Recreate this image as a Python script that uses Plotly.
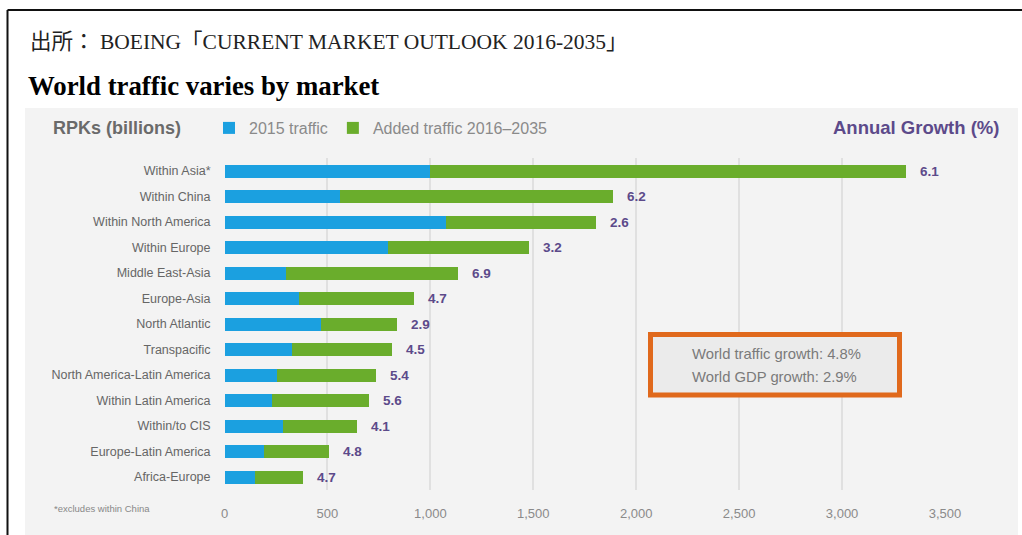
import plotly.graph_objects as go

# Markets, top to bottom
markets = [
    "Within Asia*", "Within China", "Within North America", "Within Europe",
    "Middle East-Asia", "Europe-Asia", "North Atlantic", "Transpacific",
    "North America-Latin America", "Within Latin America", "Within/to CIS",
    "Europe-Latin America", "Africa-Europe",
]
# RPKs (billions)
traffic_2015 = [1000, 562, 1078, 796, 299, 362, 467, 328, 254, 230, 284, 192, 148]
added_2016_2035 = [2310, 1327, 728, 684, 837, 558, 371, 486, 483, 473, 361, 314, 233]
# Annual growth (%)
annual_growth = [6.1, 6.2, 2.6, 3.2, 6.9, 4.7, 2.9, 4.5, 5.4, 5.6, 4.1, 4.8, 4.7]

x_ticks = [0, 500, 1000, 1500, 2000, 2500, 3000, 3500]
x_tick_labels = ["0", "500", "1,000", "1,500", "2,000", "2,500", "3,000", "3,500"]

W, H = 1022, 535
BLUE = "#1ba0e0"
GREEN = "#6aad2c"
PURPLE = "#5c4a8a"
SANS = "Liberation Sans, Arial, sans-serif"
SERIF = "Liberation Serif, Noto Sans CJK JP, serif"


def px(x):
    return x / W


def py(y):
    return 1 - y / H


fig = go.Figure()
fig.add_trace(go.Bar(
    y=markets, x=traffic_2015, orientation="h", name="2015 traffic",
    marker=dict(color=BLUE, line=dict(width=0)),
))
fig.add_trace(go.Bar(
    y=markets, x=added_2016_2035, orientation="h", name="Added traffic 2016\u20132035",
    marker=dict(color=GREEN, line=dict(width=0)),
))

# Growth labels at the end of each stacked bar
annotations = []
for m, a, b, g in zip(markets, traffic_2015, added_2016_2035, annual_growth):
    annotations.append(dict(
        x=a + b, y=m, xref="x", yref="y", text=f"<b>{g:.1f}</b>", showarrow=False,
        xanchor="left", xshift=12, font=dict(family=SANS, size=13.5, color=PURPLE),
    ))

# Header texts
annotations += [
    dict(x=px(28), y=py(42), xref="paper", yref="paper", xanchor="left", yanchor="middle",
         text="出所： BOEING「CURRENT MARKET OUTLOOK 2016-2035」", showarrow=False,
         font=dict(family=SERIF, size=21.5, color="#222222")),
    dict(x=px(26), y=py(86), xref="paper", yref="paper", xanchor="left", yanchor="middle",
         text="<b>World traffic varies by market</b>", showarrow=False,
         font=dict(family=SERIF, size=26.8, color="#000000")),
    dict(x=px(51), y=py(128), xref="paper", yref="paper", xanchor="left", yanchor="middle",
         text="<b>RPKs (billions)</b>", showarrow=False,
         font=dict(family=SANS, size=18, color="#6a6a6a")),
    dict(x=px(1001), y=py(128), xref="paper", yref="paper", xanchor="right", yanchor="middle",
         text="<b>Annual Growth (%)</b>", showarrow=False,
         font=dict(family=SANS, size=18.5, color=PURPLE)),
    dict(x=px(52), y=py(508), xref="paper", yref="paper", xanchor="left", yanchor="middle",
         text="*excludes within China", showarrow=False,
         font=dict(family=SANS, size=9.5, color="#888888")),
    dict(x=px(690), y=py(354), xref="paper", yref="paper", xanchor="left", yanchor="middle",
         text="World traffic growth: 4.8%", showarrow=False,
         font=dict(family=SANS, size=14.8, color="#7a7a7a")),
    dict(x=px(690), y=py(377), xref="paper", yref="paper", xanchor="left", yanchor="middle",
         text="World GDP growth: 2.9%", showarrow=False,
         font=dict(family=SANS, size=14.8, color="#7a7a7a")),
]

shapes = [
    # light grey chart panel
    dict(type="rect", xref="paper", yref="paper", x0=px(25), x1=px(1018), y0=py(540), y1=py(108),
         fillcolor="#f3f3f3", line=dict(width=0), layer="below"),
    # page frame (top and left edges)
    dict(type="line", xref="paper", yref="paper", x0=px(7.5), x1=px(1030), y0=py(10), y1=py(10),
         line=dict(color="#111111", width=2)),
    dict(type="line", xref="paper", yref="paper", x0=px(7.5), x1=px(7.5), y0=py(10), y1=py(545),
         line=dict(color="#111111", width=2)),
    # highlighted summary box
    dict(type="rect", xref="paper", yref="paper", x0=px(650.5), x1=px(899.5), y0=py(395), y1=py(334.5),
         fillcolor="#ebebeb", line=dict(color="#e0691c", width=5)),
]

fig.update_layout(
    width=W, height=H, autosize=False,
    margin=dict(l=0, r=0, t=0, b=0, pad=0, autoexpand=False),
    paper_bgcolor="white", plot_bgcolor="rgba(0,0,0,0)",
    barmode="stack", bargap=0.49,
    showlegend=True,
    legend=dict(orientation="h", x=px(209), y=py(128), xanchor="left", yanchor="middle",
                font=dict(family=SANS, size=16, color="#8a8a8a"), bgcolor="rgba(0,0,0,0)",
                traceorder="normal", itemclick=False),
    xaxis=dict(domain=[px(224.5), px(945)], range=[0, 3500], tickvals=x_ticks, ticktext=x_tick_labels,
               showgrid=True, gridcolor="#e0e0e0", gridwidth=1.5, zeroline=False, showline=False,
               ticks="", ticklabelstandoff=14, automargin=False,
               tickfont=dict(family=SANS, size=13, color="#8a8a8a"), fixedrange=True),
    yaxis=dict(domain=[py(489.75), py(158.25)], range=[12.5, -0.5], type="category",
               categoryorder="array", categoryarray=markets, automargin=False,
               showgrid=False, zeroline=False, showline=False, ticks="", ticklabelstandoff=13,
               tickfont=dict(family=SANS, size=12.5, color="#666666"), fixedrange=True),
    annotations=annotations,
    shapes=shapes,
)

fig.write_html("out.html")
